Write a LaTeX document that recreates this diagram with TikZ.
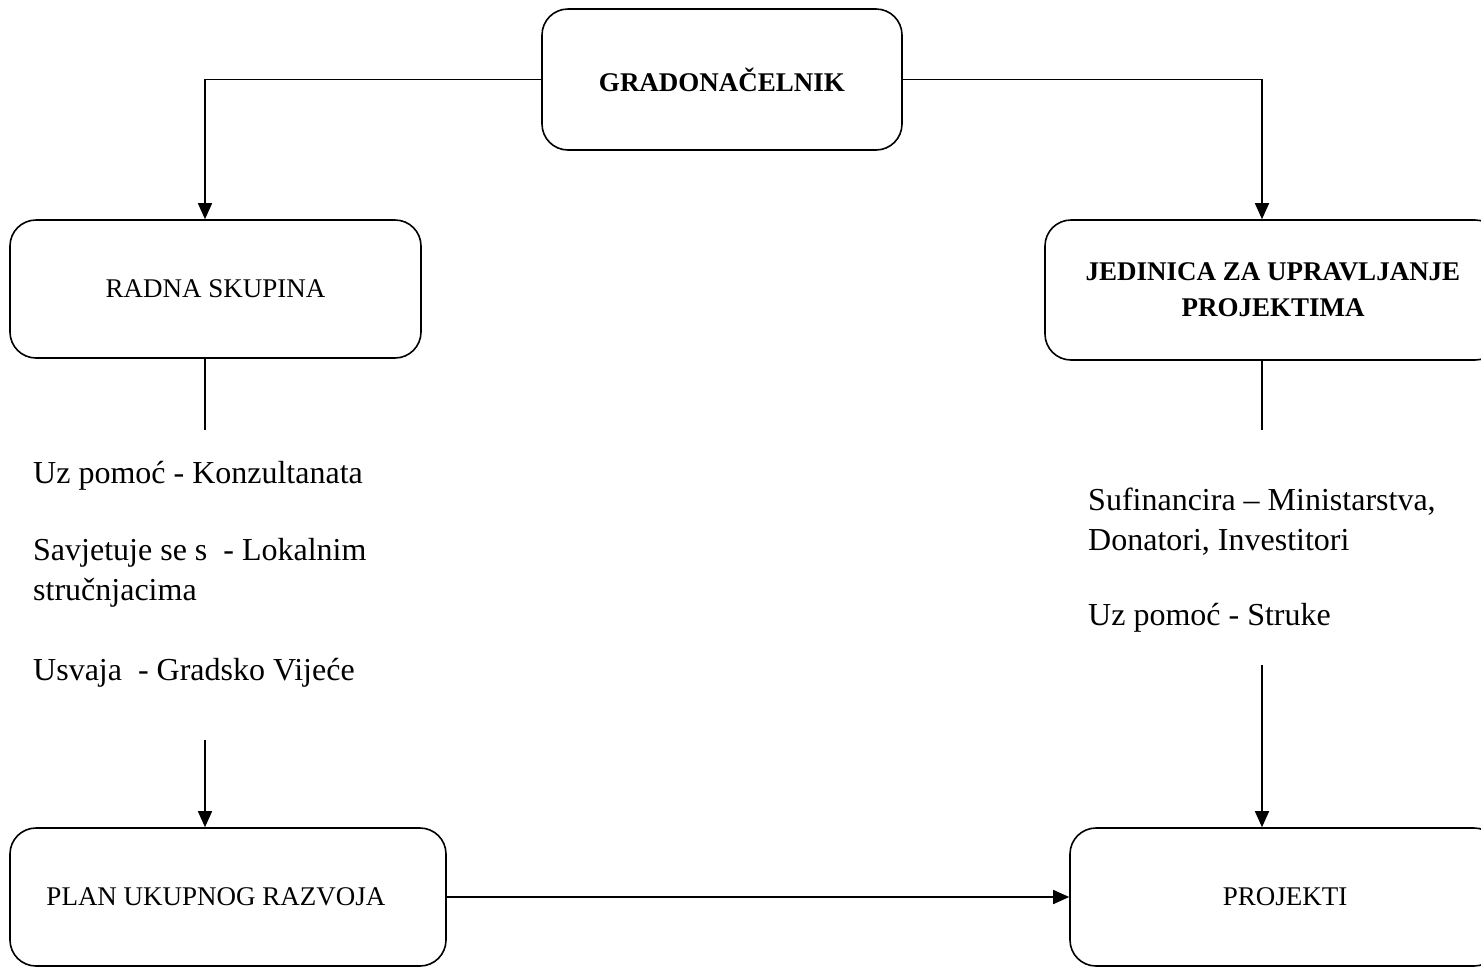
\documentclass[tikz,border=0pt]{standalone}
\usepackage{fontspec}
\setmainfont{Liberation Serif}
\usetikzlibrary{arrows.meta,calc}
\begin{document}
\begin{tikzpicture}[x=1pt,y=-1pt,
  box/.style={draw,line width=1.6pt,rounded corners=26pt,align=center,inner sep=0pt},
  boxtxt/.style={font=\fontsize{27}{36}\selectfont},
  boldtxt/.style={font=\fontsize{27}{36}\selectfont\bfseries},
  bodytxt/.style={font=\fontsize{32}{40}\selectfont,anchor=base west,inner sep=0pt,align=left},
  conn/.style={line width=1.6pt},
  arr/.style={conn,-{Triangle[length=16pt,width=14pt]}}]
\useasboundingbox (0,0) rectangle (1481,967);
\clip (0,0) rectangle (1481,967);
\node[box,boldtxt,minimum width=360pt,minimum height=141pt] (top) at (722,79.5) {GRADONAČELNIK};
\node[box,boxtxt,minimum width=411pt,minimum height=138pt] (radna) at (215.5,289) {RADNA SKUPINA};
\node[box,boldtxt,minimum width=456pt,minimum height=140pt] (jed) at (1273,290) {JEDINICA ZA UPRAVLJANJE\\PROJEKTIMA};
\node[box,boxtxt,minimum width=436pt,minimum height=138pt] (plan) at (228,897) {\hspace*{-24pt}PLAN UKUPNOG RAZVOJA};
\node[box,boxtxt,minimum width=430pt,minimum height=138pt] (proj) at (1285,897) {PROJEKTI};

\node[bodytxt] (t1) at (33,483) {Uz pomoć - Konzultanata};
\node[bodytxt] (t2) at (33,600) {Savjetuje se s\ \ - Lokalnim\\stručnjacima};
\node[bodytxt] (t3) at (33,680) {Usvaja\ \ - Gradsko Vijeće};
\node[bodytxt] (t4) at (1088,550) {Sufinancira – Ministarstva,\\Donatori, Investitori};
\node[bodytxt] (t5) at (1088,625) {Uz pomoć - Struke};

\coordinate (r1) at (205,430);
\coordinate (r2) at (205,740);
\coordinate (q1) at (1262,430);
\coordinate (q2) at (1262,665);

\draw[arr] (top.west) -| (r1 |- radna.north);
\draw[arr] (top.east) -| (q1 |- jed.north);
\draw[conn] (r1 |- radna.south) -- (r1);
\draw[arr] (r2) -- (r2 |- plan.north);
\draw[conn] (q1 |- jed.south) -- (q1);
\draw[arr] (q2) -- (q2 |- proj.north);
\draw[arr] (plan.east) -- (proj.west);
\end{tikzpicture}
\end{document}
